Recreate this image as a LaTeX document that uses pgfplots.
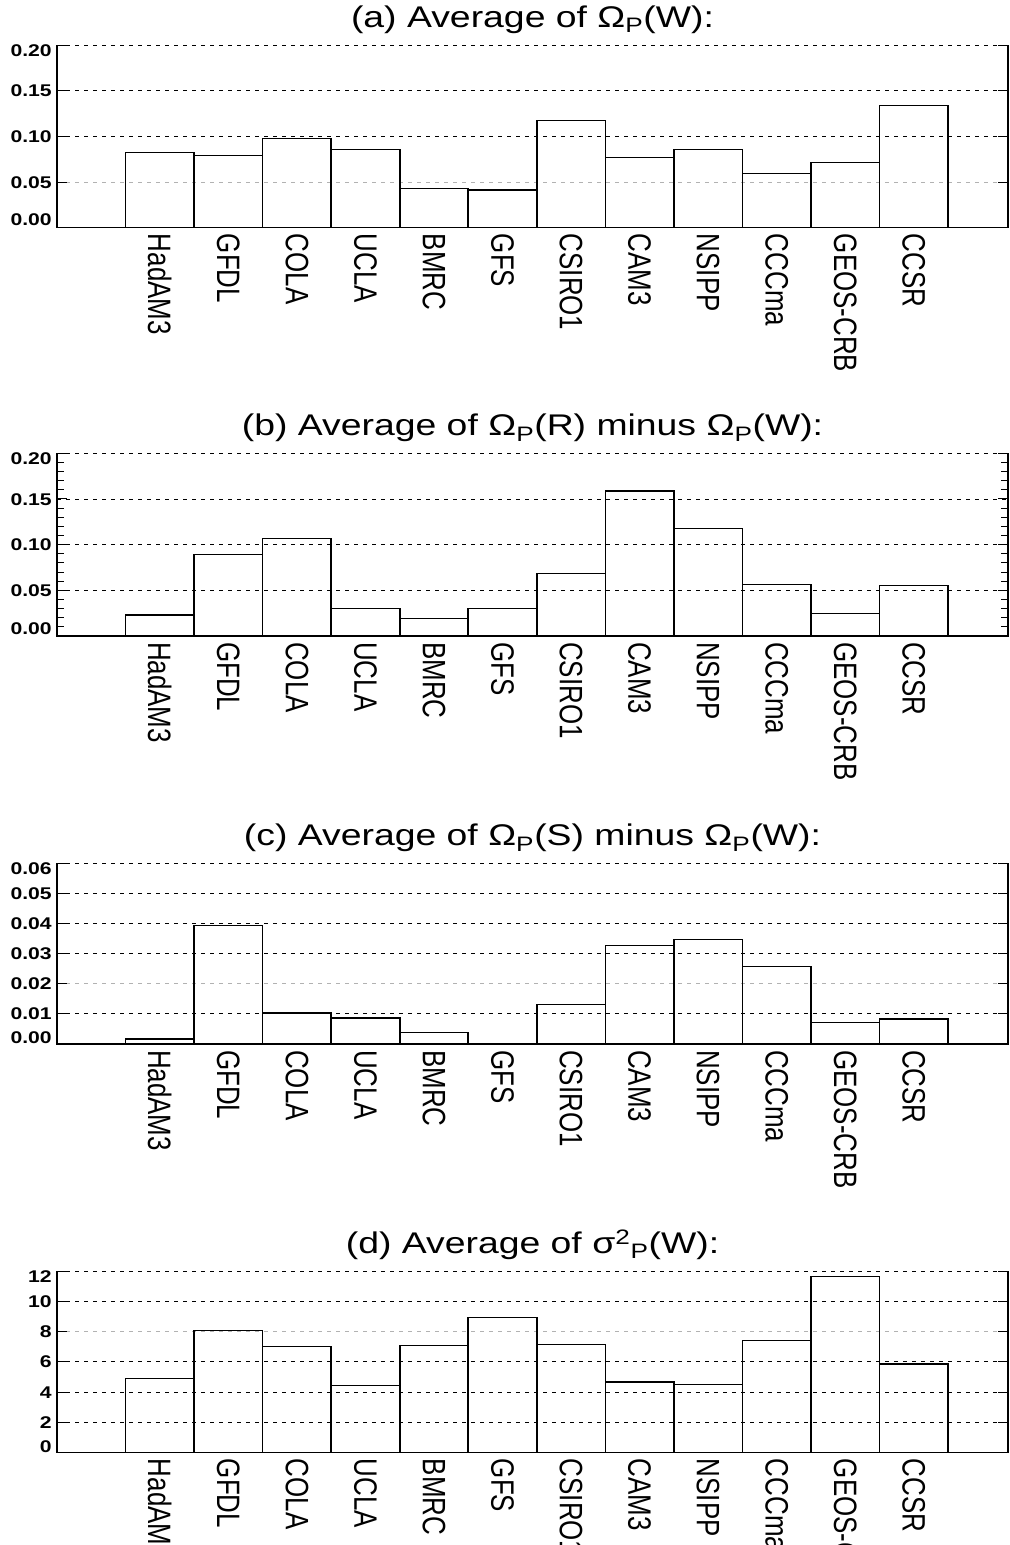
\documentclass[border=0pt]{standalone}
\usepackage{pgfplots}
\pgfplotsset{compat=1.18}
\usepackage{pgfplotstable}
\usepackage{graphicx}
\usepackage{fontspec}
\setmainfont{Liberation Sans}

% tick label lifted by #1 (baseline relative to the tick)
\newcommand\yl[2]{\smash{\raisebox{#1}{#2}}}

\pgfplotstableread{
x y
1  0.0825
2  0.0788
3  0.0974
4  0.0854
5  0.0427
6  0.0413
7  0.1171
8  0.0766
9  0.0858
10 0.0595
11 0.0712
12 0.1336
}\dataA

\pgfplotstableread{
x y
1  0.0230
2  0.0890
3  0.1070
4  0.0299
5  0.0190
6  0.0299
7  0.0684
8  0.1587
9  0.1179
10 0.0562
11 0.0244
12 0.0555
}\dataB

\pgfplotstableread{
x y
1  0.0017
2  0.0393
3  0.0103
4  0.0086
5  0.0038
6  0.0000
7  0.0131
8  0.0327
9  0.0348
10 0.0257
11 0.0071
12 0.0083
}\dataC

\pgfplotstableread{
x y
1  4.88
2  8.05
3  7.00
4  4.42
5  7.06
6  8.91
7  7.15
8  4.67
9  4.51
10 7.39
11 11.66
12 5.85
}\dataD

\pgfplotsset{
  panel/.style={
    anchor=south west,
    scale only axis,
    width=760.8bp,
    xmin=-0.5, xmax=13.375, ymin=0,
    enlargelimits=false,
    clip=false,
    scaled y ticks=false,
    axis line style={draw=none},
    xtick={1,...,12},
    xticklabels={HadAM3,GFDL,COLA,UCLA,BMRC,GFS,CSIRO1,CAM3,NSIPP,CCCma,GEOS-CRB,CCSR},
    major x tick style={draw=none},
    xticklabel style={rotate=-90, anchor=west, inner xsep=6bp, inner ysep=0pt,
      font=\fontsize{26}{26}\selectfont},
    yticklabel style={anchor=east, inner sep=0pt, xshift=-4bp,
      font=\fontsize{17}{17}\selectfont\bfseries},
    tick align=inside,
    major tick length=8bp,
    minor tick length=5.6bp,
    tick style={black, line width=1bp},
    ymajorgrids,
    major grid style={black, line width=0.9bp, dash pattern=on 3.2bp off 4bp},
    title style={at={(0.5,1)}, anchor=base, yshift=12bp, inner sep=0pt,
      font=\fontsize{30}{30}\selectfont},
  },
  graygrid/.style={extra y tick style={grid=major,
      major grid style={gray!60, line width=0.9bp, dash pattern=on 3.2bp off 4bp}}},
  bars/.style={ybar, bar width=1, bar shift=0pt, draw=black, fill=none, line width=1.3bp},
}
% left, bottom and right frame; the top is only the dashed grid line
\newcommand\frameLBR{\draw[black, line width=1.3bp]
  (rel axis cs:0,1) -- (rel axis cs:0,0) -- (rel axis cs:1,0) -- (rel axis cs:1,1);}

\begin{document}
\scalebox{1.25}[1]{%
\begin{tikzpicture}

% (a)
\begin{axis}[panel, at={(45.6bp,-227.7bp)}, height=182.7bp, ymax=0.20,
    title={(a) Average of Ω\textsubscript{P}(W):},
    minor y tick num=4,
    ytick={0,0.10,0.15,0.20},
    yticklabels={\yl{2bp}{0.00},\yl{-6.1bp}{0.10},\yl{-6.1bp}{0.15},\yl{-11.5bp}{0.20}},
    graygrid, extra y ticks={0.05}, extra y tick labels={\yl{-6.1bp}{0.05}}]
  \addplot[bars] table[x=x, y=y] {\dataA};
  \frameLBR
\end{axis}

% (b)
\begin{axis}[panel, at={(45.6bp,-636bp)}, height=182.7bp, ymax=0.20,
    title={(b) Average of Ω\textsubscript{P}(R) minus Ω\textsubscript{P}(W):},
    minor y tick num=4,
    ytick={0,0.05,0.10,0.15,0.20},
    yticklabels={\yl{2bp}{0.00},\yl{-6.1bp}{0.05},\yl{-6.1bp}{0.10},\yl{-6.1bp}{0.15},\yl{-11.5bp}{0.20}}]
  \addplot[bars] table[x=x, y=y] {\dataB};
  \frameLBR
\end{axis}

% (c)
\begin{axis}[panel, at={(45.6bp,-1044bp)}, height=180.7bp, ymax=0.06,
    title={(c) Average of Ω\textsubscript{P}(S) minus Ω\textsubscript{P}(W):},
    minor y tick num=9,
    ytick={0,0.01,0.03,0.04,0.05,0.06},
    yticklabels={\yl{1bp}{0.00},\yl{-6.1bp}{0.01},\yl{-6.1bp}{0.03},\yl{-6.1bp}{0.04},\yl{-6.1bp}{0.05},\yl{-11.5bp}{0.06}},
    graygrid, extra y ticks={0.02}, extra y tick labels={\yl{-6.1bp}{0.02}}]
  \addplot[bars] table[x=x, y=y] {\dataC};
  \frameLBR
\end{axis}

% (d)
\begin{axis}[panel, at={(45.6bp,-1452.7bp)}, height=181.7bp, ymax=12,
    title={(d) Average of σ\textsuperscript{2}\textsubscript{P}(W):},
    minor y tick num=3,
    ytick={0,2,4,6,10,12},
    yticklabels={\yl{0.5bp}{0},\yl{-6.1bp}{2},\yl{-6.1bp}{4},\yl{-6.1bp}{6},\yl{-6.1bp}{10},\yl{-11.5bp}{12}},
    graygrid, extra y ticks={8}, extra y tick labels={\yl{-6.1bp}{8}}]
  \addplot[bars] table[x=x, y=y] {\dataD};
  \frameLBR
\end{axis}

\pgfresetboundingbox
\path[use as bounding box] (0,0) rectangle (808bp,-1545bp);
\end{tikzpicture}}
\end{document}
